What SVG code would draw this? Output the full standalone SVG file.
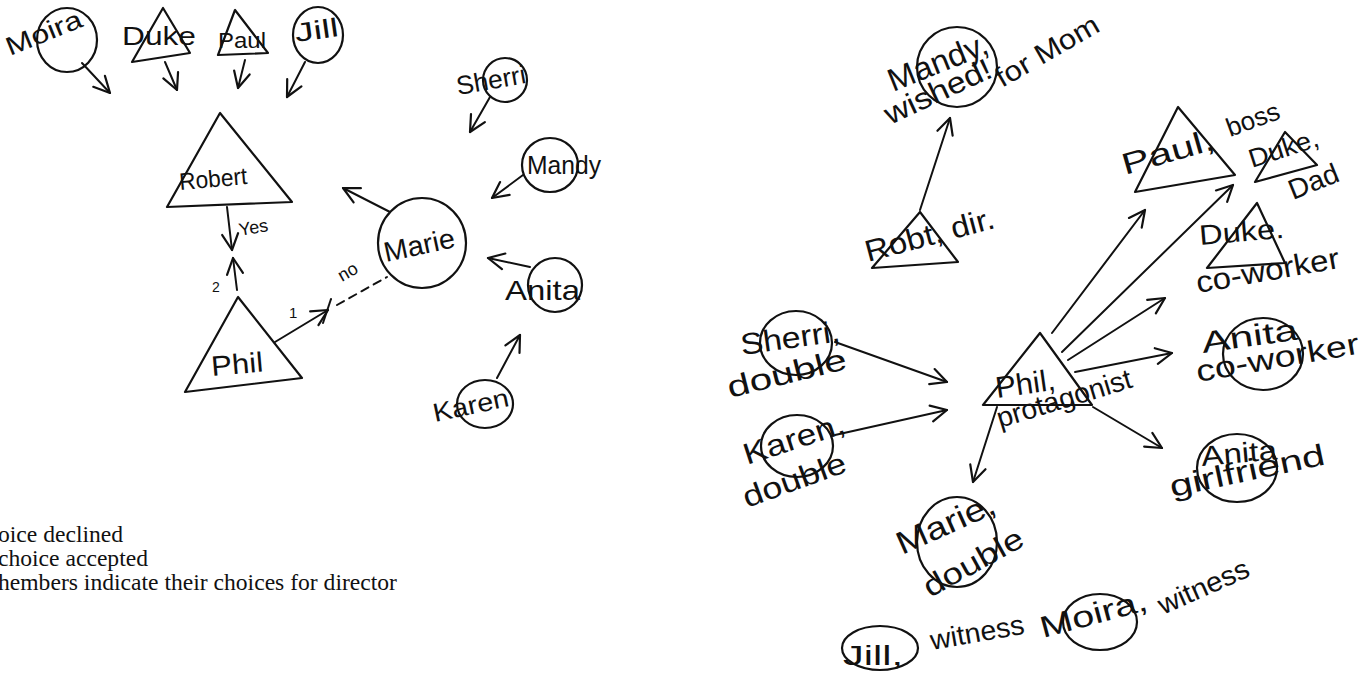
<svg xmlns="http://www.w3.org/2000/svg" width="1370" height="676" viewBox="0 0 1370 676">
<style>
.n{fill:none;stroke:#111;stroke-width:2.2;stroke-linejoin:round}
.t{font-family:"Liberation Sans",Arial,sans-serif;fill:#111}
.c{fill:none;stroke:#111;stroke-width:2;stroke-linecap:round}
.a{marker-end:url(#ah)}
.lg{font-family:"Liberation Serif","Times New Roman",serif;font-size:23.6px;fill:#111}
</style>
<defs>
<marker id="ah" viewBox="0 0 20 20" refX="18" refY="10" markerWidth="20" markerHeight="20" markerUnits="userSpaceOnUse" orient="auto">
<path d="M2,2 L18,10 L2,18" fill="none" stroke="#111" stroke-width="2.2" stroke-linecap="round" stroke-linejoin="round"/>
</marker>
</defs>
<rect width="1370" height="676" fill="#fff"/>

<g id="connectors">
<line class="c a" x1="82" y1="63" x2="110" y2="93"/>
<line class="c a" x1="165" y1="62" x2="177" y2="90"/>
<line class="c a" x1="245" y1="60" x2="238" y2="88"/>
<line class="c a" x1="305" y1="62" x2="287" y2="97"/>
<line class="c a" x1="490" y1="97" x2="470" y2="132"/>
<line class="c a" x1="523" y1="175" x2="492" y2="198"/>
<line class="c a" x1="390" y1="212" x2="343" y2="188"/>
<line class="c a" x1="530" y1="267" x2="488" y2="258"/>
<line class="c a" x1="497" y1="378" x2="520" y2="335"/>
<line class="c a" x1="227" y1="207" x2="232" y2="250"/>
<line class="c a" x1="237" y1="290" x2="233" y2="258"/>
<line class="c a" x1="275" y1="342" x2="328" y2="310"/>
<line class="c" x1="323" y1="323" x2="331" y2="299"/>
<line class="c" x1="337" y1="305" x2="387" y2="277" stroke-dasharray="8,6"/>
<line class="c a" x1="920" y1="210" x2="950" y2="118"/>
<line class="c a" x1="1052" y1="333" x2="1145" y2="210"/>
<line class="c a" x1="1062" y1="352" x2="1233" y2="185"/>
<line class="c a" x1="1068" y1="360" x2="1165" y2="298"/>
<line class="c a" x1="1075" y1="372" x2="1172" y2="353"/>
<line class="c a" x1="1093" y1="407" x2="1162" y2="448"/>
<line class="c a" x1="997" y1="407" x2="973" y2="482"/>
<line class="c a" x1="835" y1="342" x2="947" y2="382"/>
<line class="c a" x1="835" y1="435" x2="947" y2="410"/>
</g>

<g id="label-yes"><text class="t" font-size="18" transform="rotate(-10 240 236)" x="240" y="236">Yes</text></g>
<g id="label-2"><text class="t" font-size="14" x="212" y="292">2</text></g>
<g id="label-1"><text class="t" font-size="15" x="289" y="318">1</text></g>
<g id="label-no"><text class="t" font-size="18" transform="rotate(-30 342 282)" x="342" y="282">no</text></g>

<g id="moira-l"><ellipse class="n" cx="67" cy="40" rx="30" ry="32"/><text class="t" font-size="26" textLength="80" lengthAdjust="spacingAndGlyphs" transform="rotate(-22 10 56)" x="10" y="56">Moira</text></g>
<g id="duke-l"><polygon class="n" points="163,8 132,62 190,53"/><text class="t" font-size="26" textLength="74" lengthAdjust="spacingAndGlyphs" x="122" y="45">Duke</text></g>
<g id="paul-l"><polygon class="n" points="235,10 218,55 268,53"/><text class="t" font-size="22" textLength="48" lengthAdjust="spacingAndGlyphs" x="218" y="48">Paul</text></g>
<g id="jill-l"><ellipse class="n" cx="318" cy="35" rx="25" ry="28"/><text class="t" font-size="26" textLength="44" lengthAdjust="spacingAndGlyphs" transform="rotate(-8 296 42)" x="296" y="42">Jill</text></g>
<g id="robert-l"><polygon class="n" points="220,113 167,207 292,202"/><text class="t" font-size="24" textLength="68" lengthAdjust="spacingAndGlyphs" transform="rotate(-5 180 190)" x="180" y="190">Robert</text></g>
<g id="phil-l"><polygon class="n" points="238,297 185,392 302,378"/><text class="t" font-size="28" textLength="52" lengthAdjust="spacingAndGlyphs" transform="rotate(-5 212 376)" x="212" y="376">Phil</text></g>
<g id="marie-l"><ellipse class="n" cx="422" cy="243" rx="44" ry="45"/><text class="t" font-size="28" textLength="72" lengthAdjust="spacingAndGlyphs" transform="rotate(-12 386 262)" x="386" y="262">Marie</text></g>
<g id="sherri-l"><ellipse class="n" cx="505" cy="80" rx="22" ry="22"/><text class="t" font-size="26" textLength="70" lengthAdjust="spacingAndGlyphs" transform="rotate(-10 458 95)" x="458" y="95">Sherri</text></g>
<g id="mandy-l"><ellipse class="n" cx="550" cy="165" rx="28" ry="27"/><text class="t" font-size="26" textLength="74" lengthAdjust="spacingAndGlyphs" x="527" y="174">Mandy</text></g>
<g id="anita-l"><ellipse class="n" cx="555" cy="285" rx="27" ry="27"/><text class="t" font-size="28" textLength="75" lengthAdjust="spacingAndGlyphs" x="505" y="300">Anita</text></g>
<g id="karen-l"><ellipse class="n" cx="485" cy="404" rx="28" ry="24"/><text class="t" font-size="26" textLength="77" lengthAdjust="spacingAndGlyphs" transform="rotate(-12 435 422)" x="435" y="422">Karen</text></g>

<g id="legend">
<text class="lg" x="-2" y="542">oice declined</text>
<text class="lg" x="-2" y="566">choice accepted</text>
<text class="lg" x="-2" y="590">hembers indicate their choices for director</text>
</g>

<g id="mandy-r"><ellipse class="n" cx="957" cy="67" rx="40" ry="40"/>
<text class="t" font-size="32" textLength="105" lengthAdjust="spacingAndGlyphs" transform="rotate(-22 893 92)" x="893" y="92">Mandy,</text>
<text class="t" font-size="30" textLength="115" lengthAdjust="spacingAndGlyphs" transform="rotate(-25 890 125)" x="890" y="125">wished!</text>
<text class="t" font-size="28" textLength="115" lengthAdjust="spacingAndGlyphs" transform="rotate(-30 1002 88)" x="1002" y="88">for Mom</text></g>
<g id="robt-r"><polygon class="n" points="920,212 872,268 958,262"/><text class="t" font-size="30" textLength="133" lengthAdjust="spacingAndGlyphs" transform="rotate(-15 868 262)" x="868" y="262">Robt, dir.</text></g>
<g id="phil-r"><polygon class="n" points="1040,333 983,405 1092,405"/>
<text class="t" font-size="30" textLength="60" lengthAdjust="spacingAndGlyphs" transform="rotate(-8 997 398)" x="997" y="398">Phil,</text>
<text class="t" font-size="28" textLength="140" lengthAdjust="spacingAndGlyphs" transform="rotate(-17 1000 428)" x="1000" y="428">protagonist</text></g>
<g id="sherri-r"><ellipse class="n" cx="796" cy="343" rx="36" ry="32"/>
<text class="t" font-size="30" textLength="100" lengthAdjust="spacingAndGlyphs" transform="rotate(-8 742 355)" x="742" y="355">Sherri,</text>
<text class="t" font-size="30" textLength="122" lengthAdjust="spacingAndGlyphs" transform="rotate(-14 730 398)" x="730" y="398">double</text></g>
<g id="karen-r"><ellipse class="n" cx="797" cy="446" rx="36" ry="31"/>
<text class="t" font-size="30" textLength="105" lengthAdjust="spacingAndGlyphs" transform="rotate(-18 747 465)" x="747" y="465">Karen,</text>
<text class="t" font-size="30" textLength="108" lengthAdjust="spacingAndGlyphs" transform="rotate(-20 747 508)" x="747" y="508">double</text></g>
<g id="marie-r"><ellipse class="n" cx="957" cy="542" rx="40" ry="45"/>
<text class="t" font-size="32" textLength="105" lengthAdjust="spacingAndGlyphs" transform="rotate(-24 902 555)" x="902" y="555">Marie,</text>
<text class="t" font-size="30" textLength="110" lengthAdjust="spacingAndGlyphs" transform="rotate(-29 930 598)" x="930" y="598">double</text></g>
<g id="jill-r"><ellipse class="n" cx="880" cy="648" rx="38" ry="22"/>
<text class="t" font-size="28" textLength="60" lengthAdjust="spacingAndGlyphs" x="843" y="665">Jill,</text>
<text class="t" font-size="28" textLength="95" lengthAdjust="spacingAndGlyphs" transform="rotate(-10 932 650)" x="932" y="650">witness</text></g>
<g id="moira-r"><ellipse class="n" cx="1100" cy="622" rx="37" ry="28"/>
<text class="t" font-size="30" textLength="110" lengthAdjust="spacingAndGlyphs" transform="rotate(-15 1043 638)" x="1043" y="638">Moira,</text>
<text class="t" font-size="28" textLength="97" lengthAdjust="spacingAndGlyphs" transform="rotate(-24 1163 615)" x="1163" y="615">witness</text></g>
<g id="paul-r"><polygon class="n" points="1178,107 1135,192 1235,175"/>
<text class="t" font-size="30" textLength="95" lengthAdjust="spacingAndGlyphs" transform="rotate(-16 1125 175)" x="1125" y="175">Paul,</text>
<text class="t" font-size="26" textLength="55" lengthAdjust="spacingAndGlyphs" transform="rotate(-20 1230 137)" x="1230" y="137">boss</text></g>
<g id="duke-dad"><polygon class="n" points="1285,132 1255,182 1317,165"/>
<text class="t" font-size="26" textLength="72" lengthAdjust="spacingAndGlyphs" transform="rotate(-18 1252 168)" x="1252" y="168">Duke,</text>
<text class="t" font-size="28" textLength="52" lengthAdjust="spacingAndGlyphs" transform="rotate(-22 1293 200)" x="1293" y="200">Dad</text></g>
<g id="duke-co"><polygon class="n" points="1257,203 1207,268 1285,263"/>
<text class="t" font-size="28" textLength="85" lengthAdjust="spacingAndGlyphs" transform="rotate(-5 1200 245)" x="1200" y="245">Duke.</text>
<text class="t" font-size="30" textLength="145" lengthAdjust="spacingAndGlyphs" transform="rotate(-10 1198 293)" x="1198" y="293">co-worker</text></g>
<g id="anita-co"><ellipse class="n" cx="1263" cy="354" rx="40" ry="36"/>
<text class="t" font-size="30" textLength="97" lengthAdjust="spacingAndGlyphs" transform="rotate(-8 1203 353)" x="1203" y="353">Anita</text>
<text class="t" font-size="30" textLength="165" lengthAdjust="spacingAndGlyphs" transform="rotate(-10 1198 382)" x="1198" y="382">co-worker</text></g>
<g id="anita-gf"><ellipse class="n" cx="1237" cy="468" rx="40" ry="34"/>
<text class="t" font-size="28" textLength="76" lengthAdjust="spacingAndGlyphs" transform="rotate(-5 1202 466)" x="1202" y="466">Anita</text>
<text class="t" font-size="30" textLength="158" lengthAdjust="spacingAndGlyphs" transform="rotate(-12 1172 497)" x="1172" y="497">girlfriend</text></g>
</svg>
